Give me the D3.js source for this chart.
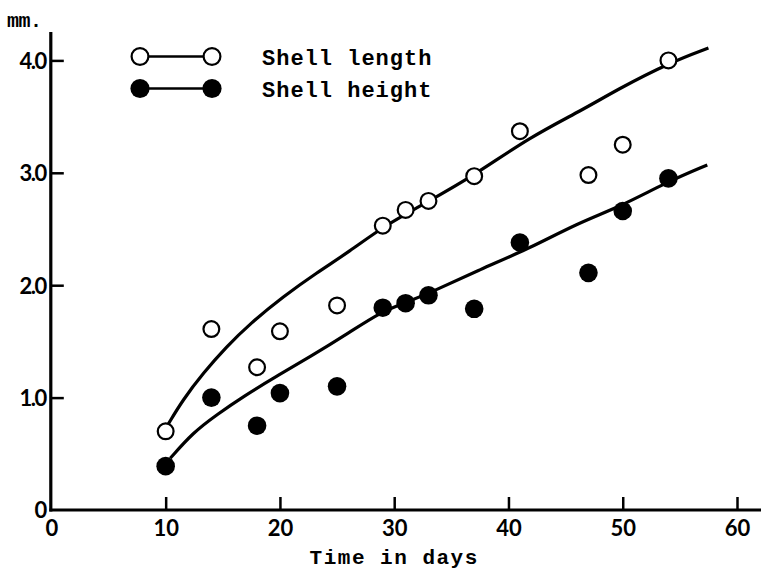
<!DOCTYPE html>
<html>
<head>
<meta charset="utf-8">
<script src="https://cdn.jsdelivr.net/npm/d3@7"></script>
<style>
  html, body { margin: 0; padding: 0; background: #fff; }
  svg { display: block; }
  .tick-label { font-family: Lato, "DejaVu Sans", sans-serif; font-weight: 700; font-size: 22px; fill: #000; }
  .type { font-family: "Liberation Mono", "DejaVu Sans Mono", monospace; font-weight: 700; fill: #000; }
</style>
</head>
<body>
<svg id="chart" width="761" height="571"></svg>
<script>
// Measured growth of the shell (mm) against age (days)
const days = [10, 14, 18, 20, 25, 29, 31, 33, 37, 41, 47, 50, 54];
const shellLength = [0.70, 1.61, 1.27, 1.59, 1.82, 2.53, 2.67, 2.75, 2.97, 3.37, 2.98, 3.25, 4.00];
const shellHeight = [0.39, 1.00, 0.75, 1.04, 1.10, 1.80, 1.84, 1.91, 1.79, 2.38, 2.11, 2.66, 2.95];

// Hand-fitted growth curves
const lengthCurveDays = [10.2, 11.5, 13.3, 15.3, 17.4, 20.3, 23.2, 26.1, 29.0, 32.9, 36.9, 41.9, 46.5, 49.5, 54.1, 57.5];
const lengthCurveValues = [0.76, 0.98, 1.22, 1.45, 1.66, 1.90, 2.11, 2.30, 2.52, 2.74, 2.97, 3.32, 3.56, 3.74, 3.98, 4.11];
const heightCurveDays = [10.4, 12.4, 14.5, 16.8, 19.7, 22.6, 26.1, 28.8, 31.1, 33.1, 37.5, 41.9, 46.0, 49.8, 53.9, 57.4];
const heightCurveValues = [0.46, 0.69, 0.85, 1.01, 1.19, 1.36, 1.58, 1.76, 1.85, 1.93, 2.14, 2.33, 2.55, 2.70, 2.92, 3.07];

const xTicks = [0, 10, 20, 30, 40, 50, 60];
const yTicks = [0, 1, 2, 3, 4];
const yTickLabels = ["0", "1.0", "2.0", "3.0", "4.0"];

const svg = d3.select("#chart");
const x = d3.scaleLinear().domain([0, 60]).range([51.4, 737]);
const y = d3.scaleLinear().domain([0, 4]).range([510, 60.4]);

// Axes: ticks point inward from the frame lines
const xAxis = d3.axisBottom(x).tickValues(xTicks).tickSizeInner(-13).tickSizeOuter(0).tickPadding(10)
  .tickFormat(d => String(d));
const gx = svg.append("g").attr("transform", `translate(0,${y(0)})`).call(xAxis);
gx.select(".domain").remove();
gx.selectAll(".tick line").attr("stroke", "#000").attr("stroke-width", 2.5)
  .filter(d => d === 0).remove();
gx.selectAll(".tick text").attr("class", "tick-label").attr("dy", "0.72em");

const yAxis = d3.axisLeft(y).tickValues(yTicks).tickSizeInner(-13).tickSizeOuter(0).tickPadding(5)
  .tickFormat((d, i) => yTickLabels[i]);
const gy = svg.append("g").attr("transform", `translate(${x(0) - 0.6},0)`).call(yAxis);
gy.select(".domain").remove();
gy.selectAll(".tick line").attr("stroke", "#000").attr("stroke-width", 2.5)
  .filter(d => d === 0).remove();
gy.selectAll(".tick text").attr("class", "tick-label").attr("dy", "0.36em")
  .style("letter-spacing", "-1.5px");

// Frame lines
svg.append("line").attr("x1", x(0) - 0.6).attr("x2", x(0) - 0.6).attr("y1", 32).attr("y2", y(0) + 1.5)
  .attr("stroke", "#000").attr("stroke-width", 3.2);
svg.append("line").attr("x1", x(0) - 2).attr("x2", 761).attr("y1", y(0)).attr("y2", y(0))
  .attr("stroke", "#000").attr("stroke-width", 3.2);

// Unit and axis title
svg.append("text").attr("class", "type").attr("x", 7).attr("y", 27)
  .style("font-size", "20px").style("letter-spacing", "-0.5px").text("mm.");
svg.append("text").attr("class", "type").attr("x", x(30)).attr("y", 564)
  .attr("text-anchor", "middle").style("font-size", "21px").style("letter-spacing", "1.5px")
  .text("Time in days");

// Fitted curves, smoothed through the read-off points
const line = d3.line().x(d => x(d[0])).y(d => y(d[1])).curve(d3.curveBasis);
svg.append("path").datum(d3.zip(lengthCurveDays, lengthCurveValues)).attr("d", line)
  .attr("fill", "none").attr("stroke", "#000").attr("stroke-width", 3.2);
svg.append("path").datum(d3.zip(heightCurveDays, heightCurveValues)).attr("d", line)
  .attr("fill", "none").attr("stroke", "#000").attr("stroke-width", 3.2);

// Observations
svg.append("g").selectAll("circle").data(d3.zip(days, shellHeight)).join("circle")
  .attr("cx", d => x(d[0])).attr("cy", d => y(d[1])).attr("r", 9.3).attr("fill", "#000");
svg.append("g").selectAll("circle").data(d3.zip(days, shellLength)).join("circle")
  .attr("cx", d => x(d[0])).attr("cy", d => y(d[1])).attr("r", 7.9)
  .attr("fill", "#fff").attr("stroke", "#000").attr("stroke-width", 2.2);

// Legend
const legend = [
  { label: "Shell length", open: true, cy: 56.5 },
  { label: "Shell height", open: false, cy: 88.5 }
];
legend.forEach(item => {
  const g = svg.append("g");
  g.append("line").attr("x1", 140).attr("x2", 212).attr("y1", item.cy).attr("y2", item.cy)
    .attr("stroke", "#000").attr("stroke-width", 2.5);
  [140, 212].forEach(cx => {
    g.append("circle").attr("cx", cx).attr("cy", item.cy)
      .attr("r", item.open ? 8.4 : 9.6)
      .attr("fill", item.open ? "#fff" : "#000")
      .attr("stroke", item.open ? "#000" : "none").attr("stroke-width", 2.2);
  });
  g.append("text").attr("class", "type").attr("x", 262).attr("y", item.cy + 8)
    .style("font-size", "22px").style("letter-spacing", "1px").text(item.label);
});
</script>
</body>
</html>
